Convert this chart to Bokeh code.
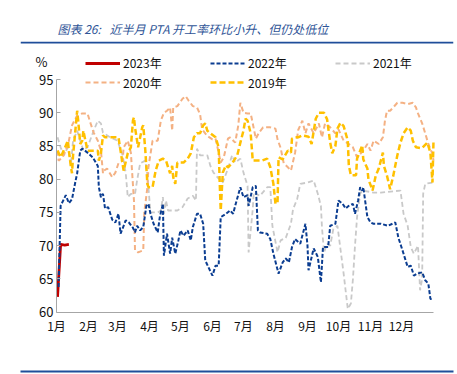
from bokeh.plotting import figure
from bokeh.models import (Range1d, FixedTicker, Legend, LegendItem, Label,
                          BoxAnnotation, LinearAxis)
from bokeh.embed import file_html
from bokeh.resources import INLINE

# ---------------- data (day of year, utilisation %) ----------------
month_ticks = [0, 31, 59, 90, 120, 151, 181, 212, 243, 273, 304, 334]
month_labels = ["1月", "2月", "3月", "4月", "5月", "6月", "7月", "8月",
                "9月", "10月", "11月", "12月"]
y_ticks = [60, 65, 70, 75, 80, 85, 90, 95]

days_2023 = [1, 4, 8, 12]
vals_2023 = [62.3, 70.2, 70.1, 70.2]

days_2022 = [2, 4, 9, 12, 15, 18, 20, 23, 25, 30, 35, 40, 41, 43, 45, 47, 50, 54, 57, 60,
             62, 67, 70, 74, 76, 78, 81, 84, 87, 89, 91, 94, 98, 100, 103, 104, 107, 110, 112, 115,
             118, 120, 123, 127, 130, 132, 136, 139, 142, 144, 147, 151, 154, 157, 159, 164, 168, 171, 173, 178,
             181, 185, 186, 190, 193, 195, 197, 204, 207, 210, 215, 219, 222, 225, 228, 231, 236, 241, 243, 244,
             249, 253, 256, 258, 263, 265, 270, 273, 277, 280, 283, 287, 289, 292, 294, 296, 297, 301, 304, 307,
             314, 321, 328, 331, 335, 340, 343, 346, 349, 354, 357, 360, 362, 365]
vals_2022 = [63.8, 76, 77.6, 76.4, 77, 79.4, 80.9, 84.3, 84.6, 84, 83.3, 82, 78.8, 77.3, 77.8, 75.6, 75.8, 73.9, 73.5, 74.8,
             71.8, 73.8, 73.5, 72.7, 72, 73, 72.3, 72.8, 76, 76.3, 74.8, 73.3, 72, 74.3, 76.3, 68.5, 71.8, 68.8, 71.2, 68.8,
             70.8, 72.3, 71.5, 72.3, 70.8, 72.8, 74.8, 74.8, 73.3, 67.8, 66.8, 65.5, 67, 67, 74.3, 74.8, 75.3, 74.8, 76, 78.8,
             77.3, 77.6, 76, 78.8, 79, 72.3, 72, 71.8, 71, 68.8, 65.8, 67.5, 68.1, 67.5, 69.8, 71, 70.3, 73.3, 70, 66.3,
             69.6, 68.3, 64.5, 69.8, 69.8, 73, 73.3, 76.8, 76.3, 75.6, 76, 76.3, 74.8, 76.8, 78.8, 78.3, 78.8, 74.3, 73.5, 73.3,
             73.3, 73, 73.5, 71.2, 69.3, 66.8, 67, 65.5, 65.8, 66, 64.8, 64.3, 62, 62]

days_2021 = [1, 4, 7, 11, 14, 16, 20, 23, 26, 30, 36, 40, 43, 45, 52, 59, 64, 67, 69, 72,
             76, 78, 81, 86, 88, 91, 98, 101, 103, 104, 106, 108, 117, 122, 127, 132, 135, 136, 139, 146,
             149, 152, 157, 161, 166, 170, 173, 178, 181, 185, 186, 190, 191, 197, 204, 207, 209, 214, 217, 222,
             227, 229, 233, 236, 243, 249, 253, 256, 257, 259, 262, 265, 268, 272, 278, 282, 285, 287, 289, 291,
             294, 296, 307, 314, 333, 336, 340, 343, 346, 350, 352, 354, 355, 357, 364]
vals_2021 = [86.3, 84.8, 83.6, 84.8, 82.2, 85.8, 87.3, 85.8, 84.3, 84.8, 87.3, 88.8, 88.4, 87, 86.3, 85.8, 83.6, 81, 77.3, 77.8,
             77.8, 79.8, 82.4, 82.8, 80.6, 75, 75, 75.3, 77.3, 74.8, 76.8, 75.3, 75.3, 75.8, 77.1, 77.5, 76.8, 84.6, 83.6, 83.6,
             82, 81, 80.1, 79.5, 81.6, 83.6, 82.5, 83.1, 81, 79, 69, 75.5, 78, 77.5, 78.8, 78.8, 73, 69, 70.8, 71.2,
             73.3, 75.5, 77, 79.3, 79.5, 79.8, 77.8, 76, 72.8, 69, 70.3, 70, 72.5, 73, 65.8, 60.5, 61.3, 65, 70, 74.3,
             77.8, 78.3, 78, 78, 78.3, 74.8, 73, 69.8, 68.8, 70, 63.3, 65, 77.8, 79.3, 79.5]

days_2020 = [1, 2, 6, 9, 12, 15, 20, 25, 30, 33, 36, 40, 43, 45, 46, 49, 54, 57, 60, 64,
             65, 69, 72, 75, 76, 79, 84, 85, 88, 89, 93, 98, 101, 104, 107, 110, 112, 113, 117, 122,
             125, 128, 132, 136, 139, 141, 146, 151, 154, 157, 159, 162, 166, 168, 173, 176, 178, 181, 185, 188,
             190, 193, 196, 200, 207, 212, 214, 217, 220, 224, 227, 231, 234, 238, 241, 244, 249, 254, 257, 260,
             265, 270, 273, 278, 283, 287, 291, 294, 297, 301, 304, 307, 312, 316, 318, 320, 323, 326, 330, 335,
             340, 345, 348, 350, 354, 357, 360, 364, 365]
vals_2020 = [84.3, 82.8, 83.3, 84.3, 85.8, 88.1, 89.6, 89.9, 89.9, 88.4, 87, 85.8, 84.3, 80.9, 81.3, 81.6, 80.3, 81, 82.4, 82.8,
             84.8, 85.8, 84, 76.8, 69.3, 69, 69.3, 75, 78.8, 81.8, 85.8, 85.8, 88.8, 90, 90.3, 90.8, 87.3, 90.8, 91, 92.1,
             92.5, 91.8, 91, 90.8, 89.8, 87.5, 86.5, 86, 86.1, 84, 82.5, 83.3, 86.1, 86.3, 85.5, 88.1, 91.5, 90, 89.9, 89.9,
             88.4, 86.1, 87, 87.8, 87.8, 87.6, 86, 84.7, 82.4, 81.8, 81.3, 84, 87.4, 88.8, 86.9, 88.4, 86.9, 88.4, 86.3, 88.4,
             87.8, 86.9, 87.5, 85.8, 85.3, 84.8, 83.3, 83.8, 84.3, 85.3, 84.3, 85.8, 85.3, 86.3, 88.8, 90.3, 90.3, 90.8, 91.5, 91.5,
             91.3, 91.5, 90.8, 89.9, 88.4, 86.9, 85.3, 83.8, 82.8]

days_2019 = [1, 4, 7, 11, 12, 14, 15, 16, 18, 20, 21, 23, 25, 26, 30, 33, 36, 40, 41, 43,
             45, 47, 52, 57, 60, 62, 65, 69, 72, 74, 75, 76, 78, 79, 83, 84, 86, 88, 89, 93,
             96, 99, 103, 106, 108, 110, 112, 113, 115, 117, 120, 123, 127, 130, 133, 136, 139, 142, 144, 146,
             149, 154, 157, 158, 159, 161, 164, 166, 170, 175, 178, 181, 183, 185, 188, 190, 195, 199, 204, 207,
             210, 212, 214, 215, 219, 224, 227, 228, 231, 234, 238, 241, 244, 247, 251, 254, 259, 262, 265, 267,
             270, 272, 275, 278, 282, 283, 285, 290, 291, 296, 297, 301, 302, 306, 309, 312, 316, 317, 320, 323,
             326, 330, 333, 336, 340, 343, 345, 348, 352, 354, 359, 362, 364, 365]
vals_2019 = [84.3, 83.3, 84.3, 85.8, 84.3, 81.8, 80.9, 83.5, 86.9, 90.3, 88.8, 85.3, 85.8, 87.3, 84.3, 84.3, 84.3, 84.3, 82.8, 83.9,
             86.6, 86.3, 86.3, 86.3, 86.3, 84.3, 81.3, 83.9, 84.8, 88.8, 89.3, 87.8, 85.8, 84.8, 87.8, 88.1, 84.3, 79.3, 78.8, 78.8,
             81.3, 82.8, 83.1, 82.8, 81.8, 80.9, 82, 80.3, 79.3, 82.5, 82.5, 82.5, 83.1, 83.9, 86.3, 86.9, 86.9, 88.1, 88.4, 87.3,
             86.9, 86.3, 84.8, 79.5, 75.3, 81, 82.1, 81.8, 82.4, 83.6, 85.5, 87.3, 89.1, 88.8, 86.9, 82.8, 82.8, 82.8, 83.1, 81.8,
             79.3, 76.3, 76.5, 83.3, 83, 84.3, 84, 86.1, 86.3, 86.3, 86.6, 86.5, 86.4, 85.3, 89.1, 90, 90, 89, 85.5, 83.9,
             85, 87.6, 88.5, 88, 85.8, 82.1, 80.6, 80.6, 83.1, 85.1, 83, 81.6, 80, 78.3, 80.5, 81.6, 84, 82, 80.5, 78.5,
             80.5, 83.6, 85.5, 86.9, 87.8, 87.3, 85.8, 84.8, 84.7, 84.7, 85.5, 84, 79.5, 85.8]

title_text = "图表 26:\u2002\u00a0近半月 PTA 开工率环比小升、但仍处低位"
unit_text = "%"

# ---------------- figure ----------------
CJK = "Noto Sans CJK SC"
BLUE_RULE = "#1f4e9a"
# frame spans 20..453 px horizontally and 41..371 px vertically;
# day 0 sits at 56 px, day 365 at 433 px; 95 % at 79 px, 60 % at 311.7 px
px_per_day = 377 / 365.0
px_per_pct = 232.7 / 35.0
frame_bottom = 371
x_start = 0 - 36 / px_per_day
x_end = 365 + 20 / px_per_day
y_end = 95 + (79 - 41) / px_per_pct
y_start = 60 - (frame_bottom - 311.7) / px_per_pct

p = figure(width=457, height=374, output_backend="svg", toolbar_location=None,
           x_range=Range1d(x_start, x_end), y_range=Range1d(y_start, y_end),
           min_border_left=20, min_border_right=4, min_border_top=41,
           min_border_bottom=374 - frame_bottom)
p.outline_line_color = None
p.grid.grid_line_color = None
p.background_fill_color = "white"
p.border_fill_color = "white"

p.title.text = title_text
p.title.align = "left"
p.title.offset = 37
p.title.standoff = 9
p.title.text_font = CJK
p.title.text_font_size = "12px"
p.title.text_font_style = "italic"
p.title.text_color = "#2f5597"

r21 = p.line(days_2021, vals_2021, line_color="#c9c9c9", line_width=1.8, line_dash="5 3")
r20 = p.line(days_2020, vals_2020, line_color="#f4b183", line_width=2, line_dash="5 3")
r19 = p.line(days_2019, vals_2019, line_color="#ffc000", line_width=2.5, line_dash="6 3")
r23 = p.line(days_2023, vals_2023, line_color="#c00000", line_width=2.8)
r22 = p.line(days_2022, vals_2022, line_color="#0b3d91", line_width=2, line_dash="4 2")

# axes
xa = p.xaxis[0]
xa.fixed_location = 60
xa.bounds = (0, 365)
xa.ticker = FixedTicker(ticks=month_ticks)
xa.major_label_overrides = {t: l for t, l in zip(month_ticks, month_labels)}
xa.major_tick_line_color = None
xa.major_tick_out = 0
xa.major_tick_in = 0
xa.minor_tick_line_color = None
xa.axis_line_color = "#a6a6a6"
xa.major_label_text_font = CJK
xa.major_label_text_font_size = "12px"
xa.major_label_text_color = "#111111"
xa.major_label_standoff = 5

ya = p.yaxis[0]
ya.fixed_location = 0
ya.bounds = (60, 95)
ya.ticker = FixedTicker(ticks=y_ticks)
ya.major_tick_in = 4
ya.major_tick_out = 0
ya.major_tick_line_color = "#a6a6a6"
ya.minor_tick_line_color = None
ya.axis_line_color = "#a6a6a6"
ya.major_label_text_font = CJK
ya.major_label_text_font_size = "13px"
ya.major_label_text_color = "#111111"
ya.major_label_standoff = 3

# bottom rule (a tick-less axis whose line is the blue rule)
rule_axis = LinearAxis(ticker=FixedTicker(ticks=[]), axis_line_color=BLUE_RULE,
                       axis_line_width=2, major_tick_line_color=None,
                       minor_tick_line_color=None)
p.add_layout(rule_axis, "below")

# legends (two rows, three columns)
def make_legend(items, y):
    return Legend(items=items, orientation="horizontal", location=(65, y),
                  glyph_width=35, glyph_height=14, label_height=14, label_width=80,
                  label_standoff=3, spacing=7, padding=0, margin=0,
                  border_line_color=None, background_fill_alpha=0,
                  label_text_font=CJK, label_text_font_size="12px",
                  label_text_color="#111111")

fb = frame_bottom
leg1 = make_legend([LegendItem(label="2023年", renderers=[r23]),
                    LegendItem(label="2022年", renderers=[r22]),
                    LegendItem(label="2021年", renderers=[r21])], fb - 71)
leg2 = make_legend([LegendItem(label="2020年", renderers=[r20]),
                    LegendItem(label="2019年", renderers=[r19])], fb - 90.5)
p.add_layout(leg1, "center")
p.add_layout(leg2, "center")

# unit label and the rule under the title
p.add_layout(Label(x=21, y=fb - 61, x_units="screen", y_units="screen", text=unit_text,
                   text_font=CJK, text_font_size="13px", text_color="#111111",
                   text_baseline="middle", text_align="center"))
p.add_layout(BoxAnnotation(left=0, right=433, top=fb - 41, bottom=fb - 43,
                           left_units="screen", right_units="screen",
                           top_units="screen", bottom_units="screen",
                           fill_color=BLUE_RULE, fill_alpha=1, line_color=None))

open("out.html", "w").write(file_html(p, INLINE))
